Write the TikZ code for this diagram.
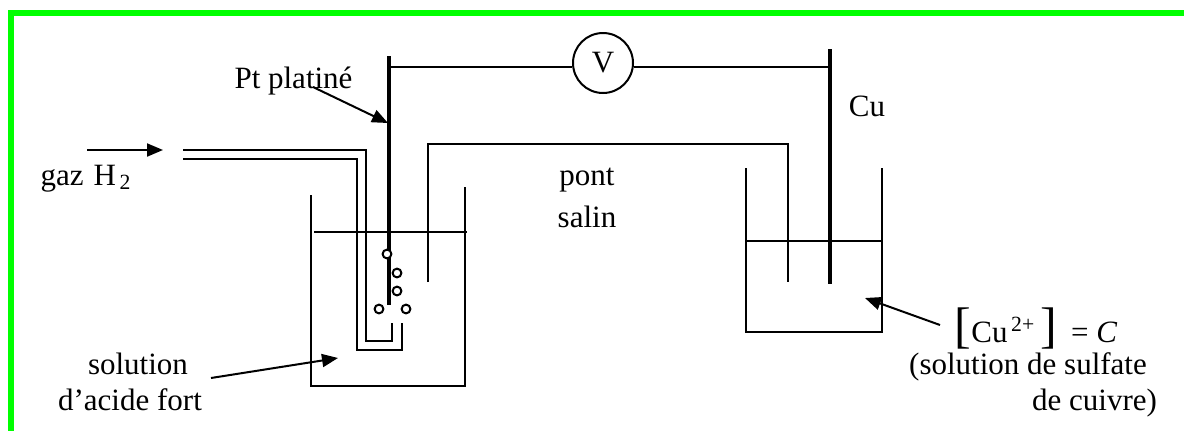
\documentclass[tikz,border=0pt]{standalone}
\usepackage{fontspec}
\setmainfont{Liberation Serif}
\usetikzlibrary{arrows.meta}
\definecolor{framegreen}{RGB}{0,255,0}
\begin{document}
\begin{tikzpicture}[x=0.5pt,y=-0.5pt,line width=1pt,
  lbl/.style={font=\fontsize{15.5}{18}\selectfont,inner sep=0pt,anchor=base},
  electrode/.style={line width=2pt},
  pointer/.style={line width=1pt,-{Triangle[length=8pt,width=6.5pt]}},
  bubble/.style={line width=1pt,fill=white},
  frame/.style={line width=3pt,draw=framegreen}]
\clip (0,0) rectangle (1184,430);
\fill[white] (0,0) rectangle (1184,430);
\draw[frame] (10.5,445) -- (10.5,13) -- (1195,13);

% key coordinates
\coordinate (pttop) at (389,56);
\coordinate (ptbot) at (389,305);
\coordinate (ptw) at (389,67);
\coordinate (cutop) at (830,49);
\coordinate (cubot) at (830,284);
\coordinate (cuw) at (830,67);

% voltmeter and wires
\node[circle,draw,line width=1pt,minimum size=30pt,inner sep=0pt,
      font=\fontsize{15.5}{18}\selectfont] (V) at (603,63) {V};
\draw (ptw) -- (ptw -| V.west);
\draw (V.east |- cuw) -- (cuw);

% left beaker
\draw (311,195) -- (311,386) -- (466,386);
\draw (465,187) -- (465,386);
\draw (314,232) -- (467,232);

% gas tube
\draw (183,150) -- (366,150) -- (366,341) -- (392,341) -- (392,323);
\draw (183,159) -- (357,159) -- (357,350) -- (402,350) -- (402,323);

% salt bridge
\draw (428,282) -- (428,144) -- (788,144) -- (788,282);

% right beaker
\draw (746,168) -- (746,332) -- (882,332) -- (882,168);
\draw (746,241) -- (882,241);

% electrodes
\draw[electrode] (pttop) -- (ptbot);
\draw[electrode] (cutop) -- (cubot);

% bubbles
\draw[bubble] (387,254) circle[radius=2.2pt];
\draw[bubble] (397,273) circle[radius=2.2pt];
\draw[bubble] (397,291) circle[radius=2.2pt];
\draw[bubble] (379,309) circle[radius=2.2pt];
\draw[bubble] (406,309) circle[radius=2.2pt];

% labels
\node[lbl] (ptlbl) at (293.5,88) {Pt platiné};
\node[lbl] (gaz) at (86,185) {gaz\hspace{5pt}H\textsubscript{\,2}};
\node[lbl] (culbl) at (867,116) {Cu};
\node[lbl] (pont) at (587,185) {pont};
\node[lbl] (salin) at (587,227) {salin};
\node[lbl] (sol1) at (138,374) {solution};
\node[lbl] (sol2) at (130,410) {d’acide fort};
\node[lbl] (conc) at (1036,342) {{\fontsize{25}{25}\selectfont[}Cu\textsuperscript{\,2+}\,{\fontsize{25}{25}\selectfont]}\hspace{7pt}= \textit{C}};
\node[lbl] (sulf1) at (1028,374) {(solution de sulfate};
\node[lbl] (sulf2) at (1094.5,410) {de cuivre)};

% pointer arrows
\coordinate (gazs) at (87,150);
\coordinate (gaze) at (163,150);
\draw[pointer] (gazs) -- (gaze);
\coordinate (pts) at (313,87);
\coordinate (pte) at (388,123);
\draw[pointer] (pts) -- (pte);
\coordinate (sols) at (211,378);
\coordinate (sole) at (338,358);
\draw[pointer] (sols) -- (sole);
\coordinate (cus) at (940,325);
\coordinate (cue) at (865,298);
\draw[pointer] (cus) -- (cue);
\end{tikzpicture}
\end{document}
